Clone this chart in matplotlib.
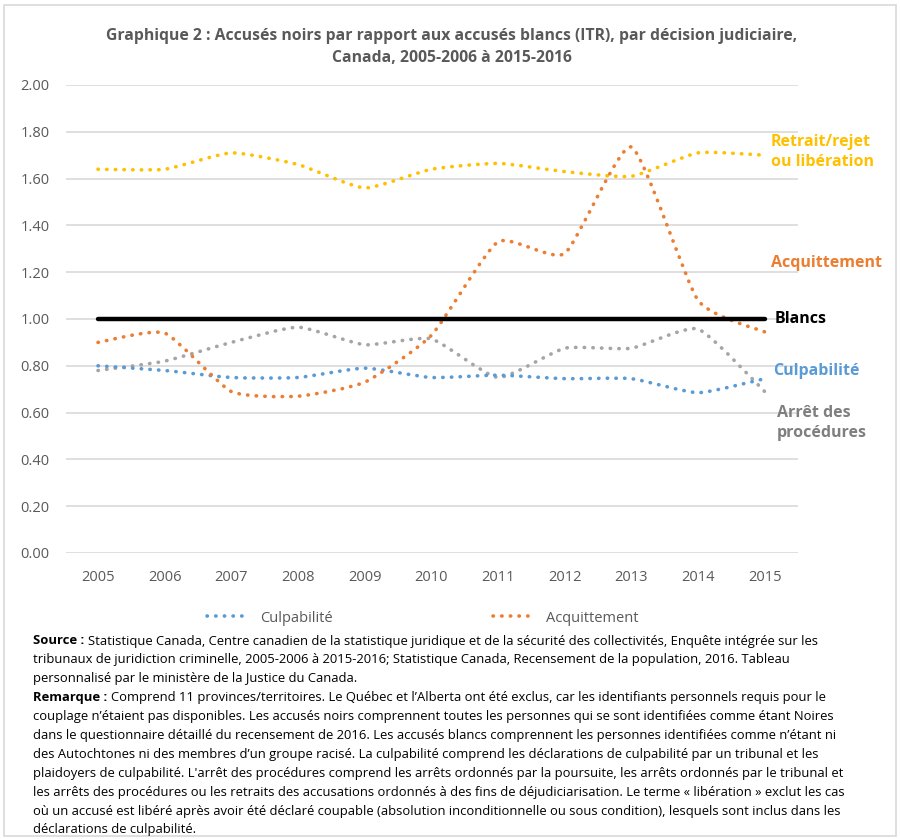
import numpy as np
import matplotlib
matplotlib.use("Agg")
import matplotlib.pyplot as plt
from matplotlib.path import Path
from matplotlib.patches import PathPatch, Rectangle
from matplotlib.lines import Line2D

plt.rcParams['font.family'] = ['Open Sans', 'DejaVu Sans']

# ========================================
# Data
# ========================================
years = [2005, 2006, 2007, 2008, 2009, 2010, 2011, 2012, 2013, 2014, 2015]
culpabilite = [0.80, 0.78, 0.75, 0.75, 0.79, 0.75, 0.76, 0.745, 0.745, 0.685, 0.745]
acquittement = [0.90, 0.94, 0.69, 0.67, 0.73, 0.93, 1.33, 1.28, 1.735, 1.08, 0.945]
arret = [0.78, 0.82, 0.90, 0.965, 0.89, 0.915, 0.75, 0.875, 0.875, 0.957, 0.69]
retrait = [1.64, 1.64, 1.71, 1.66, 1.56, 1.64, 1.665, 1.63, 1.61, 1.71, 1.70]
blancs = [1.00] * len(years)

yticks = [0.0, 0.2, 0.4, 0.6, 0.8, 1.0, 1.2, 1.4, 1.6, 1.8, 2.0]

c_blue = '#5B9BD5'
c_orange = '#ED7D31'
c_gray = '#A5A5A5'
c_yellow = '#FFC000'
c_text = '#595959'

title = ("Graphique 2 : Accusés noirs par rapport aux accusés blancs (ITR), par décision judiciaire,\n"
         "Canada, 2005-2006 à 2015-2016")

notes = [
    ("Source : ", "Statistique Canada, Centre canadien de la statistique juridique et de la sécurité des collectivités, Enquête intégrée sur les"),
    ("", "tribunaux de juridiction criminelle, 2005-2006 à 2015-2016; Statistique Canada, Recensement de la population, 2016. Tableau"),
    ("", "personnalisé par le ministère de la Justice du Canada."),
    ("Remarque : ", "Comprend 11 provinces/territoires. Le Québec et l’Alberta ont été exclus, car les identifiants personnels requis pour le"),
    ("", "couplage n’étaient pas disponibles. Les accusés noirs comprennent toutes les personnes qui se sont identifiées comme étant Noires"),
    ("", "dans le questionnaire détaillé du recensement de 2016. Les accusés blancs comprennent les personnes identifiées comme n’étant ni"),
    ("", "des Autochtones ni des membres d’un groupe racisé. La culpabilité comprend les déclarations de culpabilité par un tribunal et les"),
    ("", "plaidoyers de culpabilité. L'arrêt des procédures comprend les arrêts ordonnés par la poursuite, les arrêts ordonnés par le tribunal et"),
    ("", "les arrêts des procédures ou les retraits des accusations ordonnés à des fins de déjudiciarisation. Le terme « libération » exclut les cas"),
    ("", "où un accusé est libéré après avoir été déclaré coupable (absolution inconditionnelle ou sous condition), lesquels sont inclus dans les"),
    ("", "déclarations de culpabilité."),
]


def smooth_path(xs, ys, k=0.09):
    # mild Excel-like smoothing: cubic Bezier segments through the points
    pts = np.column_stack([xs, ys]).astype(float)
    n = len(pts)
    verts = [pts[0]]
    codes = [Path.MOVETO]
    for i in range(n - 1):
        p0 = pts[max(i - 1, 0)]
        p1 = pts[i]
        p2 = pts[i + 1]
        p3 = pts[min(i + 2, n - 1)]
        verts += [p1 + (p2 - p0) * k, p2 - (p3 - p1) * k, p2]
        codes += [Path.CURVE4] * 3
    return Path(verts, codes)


fig = plt.figure(figsize=(9, 8.39), dpi=100)
fig.patches.append(Rectangle((0.004, 0.003), 0.992, 0.991, transform=fig.transFigure,
                             fill=False, edgecolor='#D9D9D9', linewidth=1.2))

ax = fig.add_axes([66 / 900, 1 - 553 / 839, (798 - 66) / 900, (553 - 85) / 839])
ax.set_xlim(2004.52, 2015.5)
ax.set_ylim(0, 2.0)
ax.set_yticks(yticks)
ax.set_yticklabels([f'{v:.2f}' for v in yticks])
ax.set_xticks(years)
ax.tick_params(length=0, labelsize=10.5, labelcolor=c_text)
ax.tick_params(axis='y', pad=12)
ax.tick_params(axis='x', pad=12)
for s in ax.spines.values():
    s.set_visible(False)
ax.grid(axis='y', color='#D9D9D9', linewidth=1.2)
ax.set_axisbelow(True)

dots = (0, (0.1, 2.3))
for vals, col in [(retrait, c_yellow), (arret, c_gray), (culpabilite, c_blue), (acquittement, c_orange)]:
    patch = PathPatch(smooth_path(years, vals), transform=ax.transData, fill=False,
                      edgecolor=col, linewidth=2.6, linestyle=dots, capstyle='round')
    ax.add_patch(patch)

ax.plot(years, blancs, color='black', linewidth=3.2, solid_capstyle='round', zorder=3)

# Right-hand series labels
lab = dict(fontsize=11.5, fontweight='bold', ha='left', va='center', clip_on=False)
ax.text(2015.09, 1.714, "Retrait/rejet\nou libération", color=c_yellow, linespacing=1.35, **lab)
ax.text(2015.09, 1.24, "Acquittement", color=c_orange, **lab)
ax.text(2015.15, 1.0, "Blancs", color='black', **lab)
ax.text(2015.13, 0.778, "Culpabilité", color=c_blue, **lab)
ax.text(2015.18, 0.556, "Arrêt des\nprocédures", color='#7F7F7F', linespacing=1.35, **lab)

fig.text(452 / 900, 1 - 47 / 839, title, ha='center', va='center', fontsize=11.3,
         fontweight='bold', color=c_text, linespacing=1.5)

handles = [Line2D([0], [0], color=c_blue, linewidth=2.6, linestyle=dots, dash_capstyle='round'),
           Line2D([0], [0], color=c_orange, linewidth=2.6, linestyle=dots, dash_capstyle='round')]
fig.legend(handles, ['Culpabilité', 'Acquittement'], loc='center', ncol=2,
           bbox_to_anchor=(423 / 900, 1 - 618 / 839), frameon=False, fontsize=10.5,
           labelcolor=c_text, handlelength=2.9, columnspacing=11.0, handletextpad=0.75,
           borderpad=0.0)

# Footnotes with bold prefixes
fig.canvas.draw()
renderer = fig.canvas.get_renderer()
x0 = 33 / 900
y0 = 641
for i, (bold, rest) in enumerate(notes):
    yy = 1 - (y0 + i * 18.9) / 839
    x = x0
    if bold:
        t = fig.text(x, yy, bold, fontsize=9.4, fontweight='bold', va='center', ha='left', color='black')
        bb = t.get_window_extent(renderer)
        x = bb.x1 / fig.bbox.width
    fig.text(x, yy, rest, fontsize=9.4, va='center', ha='left', color='black')

plt.savefig('out.png', dpi=100)
